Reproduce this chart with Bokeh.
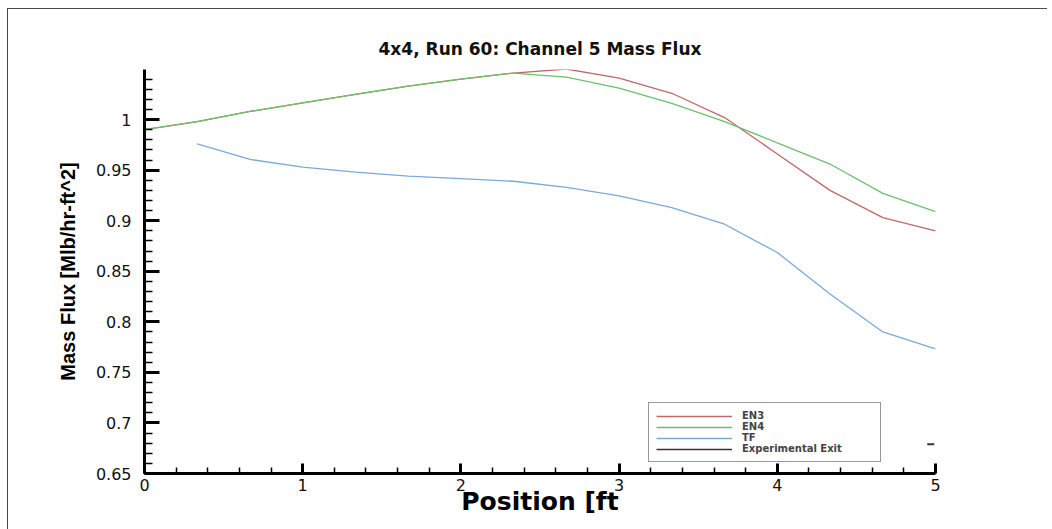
from bokeh.plotting import figure
from bokeh.models import (Legend, LegendItem, SingleIntervalTicker,
                          Range1d, CustomJSTickFormatter)
from bokeh.embed import file_html
from bokeh.resources import INLINE

# ---------------- data ----------------
position = [0.0, 0.333, 0.667, 1.0, 1.333, 1.667, 2.0, 2.333,
            2.667, 3.0, 3.333, 3.667, 4.0, 4.333, 4.667, 5.0]
en3 = [0.990, 0.998, 1.008, 1.0165, 1.025, 1.033, 1.040, 1.046,
       1.050, 1.041, 1.026, 1.002, 0.966, 0.930, 0.903, 0.890]
en4 = [0.990, 0.998, 1.008, 1.0165, 1.025, 1.033, 1.040, 1.046,
       1.042, 1.031, 1.016, 0.998, 0.977, 0.956, 0.927, 0.909]
tf_position = [0.333, 0.667, 1.0, 1.333, 1.667, 2.0, 2.333,
               2.667, 3.0, 3.333, 3.667, 4.0, 4.333, 4.667, 5.0]
tf = [0.976, 0.9606, 0.953, 0.948, 0.944, 0.9415, 0.939,
      0.933, 0.9245, 0.913, 0.8965, 0.8685, 0.8275, 0.790, 0.7733]
exp_position = [4.97]
exp_flux = [0.679]

series_names = ["EN3", "EN4", "TF", "Experimental Exit"]
title_text = "4x4, Run 60: Channel 5 Mass Flux"
x_title = "Position [ft"
y_title = "Mass Flux [Mlb/hr-ft^2]"

C_EN3 = "#c06868"
C_EN4 = "#6cc06c"
C_TF = "#7aaad8"
C_EXP = "#3d3035"

p = figure(width=1052, height=529, output_backend="svg", toolbar_location=None,
           x_range=Range1d(0, 5), y_range=Range1d(0.65, 1.0495),
           min_border_left=144, min_border_right=117,
           min_border_top=69, min_border_bottom=56,
           title=title_text)
p.border_fill_color = None
p.background_fill_color = "white"
p.outline_line_color = None
p.xgrid.visible = False
p.ygrid.visible = False
p.styles = {
    "background": "linear-gradient(#4a4a4a,#4a4a4a) 7px 8px / 1040px 1px no-repeat, "
                  "linear-gradient(#4a4a4a,#4a4a4a) 7px 8px / 1px 521px no-repeat, white"
}

# title
p.title.align = "center"
p.title.text_font = "DejaVu Sans"
p.title.text_font_style = "bold"
p.title.text_font_size = "17px"
p.title.text_color = "#111111"
p.title.standoff = 21

# axes
p.xaxis.ticker = SingleIntervalTicker(interval=1, num_minor_ticks=5)
p.yaxis.ticker = SingleIntervalTicker(interval=0.05, num_minor_ticks=5)
p.yaxis.formatter = CustomJSTickFormatter(code="return String(Number(tick.toFixed(2)));")
for ax in (p.xaxis, p.yaxis):
    ax.axis_line_width = 3
    ax.axis_line_color = "black"
    ax.major_tick_out = 0
    ax.minor_tick_out = 0
    ax.major_tick_line_width = 3
    ax.minor_tick_line_width = 1.5
    ax.major_tick_line_color = "black"
    ax.minor_tick_line_color = "black"
    ax.major_label_text_font = "DejaVu Sans"
    ax.major_label_text_font_size = "16px"
    ax.major_label_text_color = "#111111"
    ax.axis_label_text_color = "black"
    ax.axis_label_text_font_style = "bold"
p.xaxis.major_tick_in = 10
p.xaxis.minor_tick_in = 6
p.yaxis.major_tick_in = 15
p.yaxis.minor_tick_in = 8
p.xaxis.major_label_standoff = 5
p.yaxis.major_label_standoff = 13

p.xaxis.axis_label = x_title
p.xaxis.axis_label_text_font = "DejaVu Sans"
p.xaxis.axis_label_text_font_size = "25px"
p.xaxis.axis_label_standoff = -7

p.yaxis.axis_label = y_title
p.yaxis.axis_label_text_font = "Liberation Sans"
p.yaxis.axis_label_text_font_size = "20px"
p.yaxis.axis_label_standoff = 14

# series
r3 = p.line(position, en3, line_color=C_EN3, line_width=1.3)
r4 = p.line(position, en4, line_color=C_EN4, line_width=1.3)
rtf = p.line(tf_position, tf, line_color=C_TF, line_width=1.3)
rexp = p.line(exp_position, exp_flux, line_color=C_EXP, line_width=1.6)
p.scatter(exp_position, exp_flux, marker="dash", size=7, line_color=C_EXP, line_width=2)

legend = Legend(items=[LegendItem(label=series_names[0], renderers=[r3]),
                       LegendItem(label=series_names[1], renderers=[r4]),
                       LegendItem(label=series_names[2], renderers=[rtf]),
                       LegendItem(label=series_names[3], renderers=[rexp])],
                location=(504, 11))
legend.border_line_color = "#333333"
legend.border_line_width = 1
legend.background_fill_color = "white"
legend.background_fill_alpha = 1
legend.label_text_font = "DejaVu Sans"
legend.label_text_font_style = "bold"
legend.label_text_font_size = "10px"
legend.glyph_width = 76
legend.glyph_height = 10
legend.label_height = 10
legend.label_standoff = 10
legend.label_width = 131
legend.spacing = 0
legend.padding = 7
legend.margin = 0
p.add_layout(legend)

open("out.html", "w").write(file_html(p, INLINE))
